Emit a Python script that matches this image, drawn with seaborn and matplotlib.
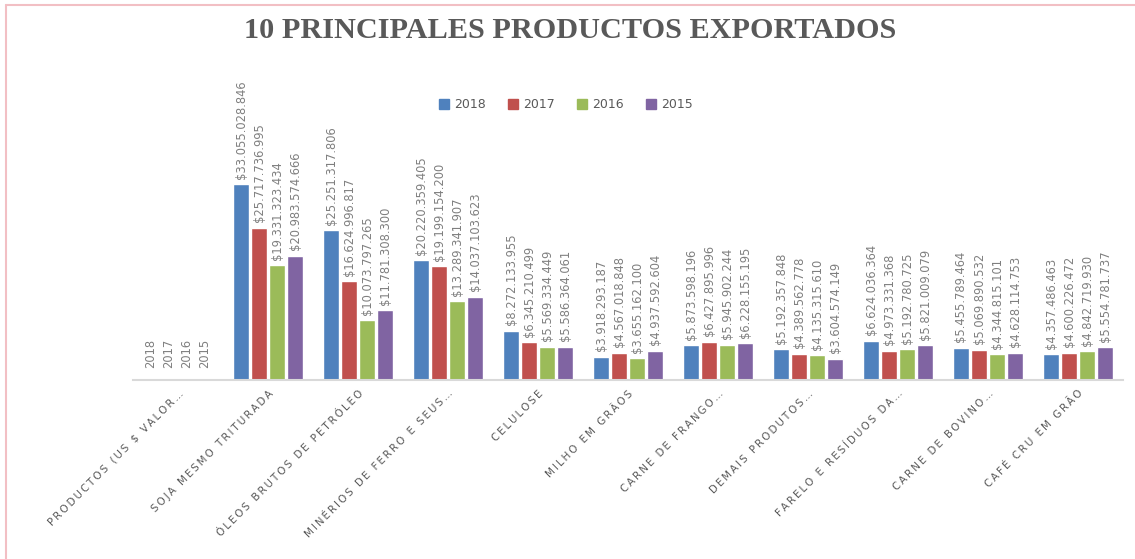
import numpy as np
import pandas as pd
import matplotlib
matplotlib.use("Agg")
import matplotlib.pyplot as plt
import seaborn as sns

# data (US$)
productos = ["PRODUCTOS (US $ VALOR…", "SOJA MESMO TRITURADA", "ÓLEOS BRUTOS DE PETRÓLEO",
             "MINÉRIOS DE FERRO E SEUS…", "CELULOSE", "MILHO EM GRÃOS", "CARNE DE FRANGO…",
             "DEMAIS PRODUTOS…", "FARELO E RESÍDUOS DA…", "CARNE DE BOVINO…", "CAFÉ CRU EM GRÃO"]
anos = ["2018", "2017", "2016", "2015"]
v2018 = [0, 33055028846, 25251317806, 20220359405, 8272133955, 3918293187,
         5873598196, 5192357848, 6624036364, 5455789464, 4357486463]
v2017 = [0, 25717736995, 16624996817, 19199154200, 6345210499, 4567018848,
         6427895996, 4389562778, 4973331368, 5069890532, 4600226472]
v2016 = [0, 19331323434, 10073797265, 13289341907, 5569334449, 3655162100,
         5945902244, 4135315610, 5192780725, 4344815101, 4842719930]
v2015 = [0, 20983574666, 11781308300, 14037103623, 5586364061, 4937592604,
         6228155195, 3604574149, 5821009079, 4628114753, 5554781737]
colores = ["#4F81BD", "#C0504D", "#9BBB59", "#8064A2"]

series = {"2018": v2018, "2017": v2017, "2016": v2016, "2015": v2015}
df = pd.DataFrame([(p, a, series[a][i]) for a in anos for i, p in enumerate(productos)],
                  columns=["producto", "ano", "valor"])

sns.set_style("white")
plt.rcParams['font.family'] = ['DejaVu Sans']

fig = plt.figure(figsize=(11.35, 5.59), dpi=100)
ax = fig.add_axes([133/1135, 1 - 380/559, 990/1135, 310/559])

sns.barplot(data=df, x="producto", y="valor", hue="ano", order=productos, hue_order=anos,
            palette=colores, width=0.8, gap=0.15, ax=ax, legend=False, saturation=1)

def fmt(v):
    return "$" + f"{int(v):,}".replace(",", ".")

for k, cont in enumerate(ax.containers):
    vals = series[anos[k]]
    ax.bar_label(cont, labels=["" if v == 0 else fmt(v) for v in vals], rotation=90,
                 padding=4, fontsize=8.3, color="#7F7F7F")
    # header row of the sheet: years show up as labels on empty bars
    ax.bar_label(cont, labels=[anos[k] if v == 0 else "" for v in vals], rotation=90,
                 padding=9, fontsize=8.3, color="#7F7F7F")

ax.set_ylim(0, 52.3e9)
ax.set_xlim(-0.5, len(productos) - 0.5)
ax.set_xlabel("")
ax.set_ylabel("")
ax.set_yticks([])
for s in ["top", "right", "left"]:
    ax.spines[s].set_visible(False)
ax.spines["bottom"].set_color("#D9D9D9")
ax.spines["bottom"].set_linewidth(1.5)
ax.tick_params(axis="x", length=0, pad=6)
ax.set_xticks(range(len(productos)))
# letter-spaced category labels
espaciados = ["\u2009".join(p) for p in productos]
ax.set_xticklabels(espaciados, rotation=45, ha="right", rotation_mode="anchor",
                   fontsize=7.4, color="#595959")

handles = [plt.Rectangle((0, 0), 1, 1, color=c) for c in colores]
fig.legend(handles, anos, loc="center", bbox_to_anchor=(566/1135, 1 - 105/559), ncol=4,
           frameon=False, fontsize=9, handlelength=0.8, handleheight=0.8,
           handletextpad=0.4, columnspacing=1.8, labelcolor="#595959")

fig.text(570/1135, 1 - 31/559, "10 PRINCIPALES PRODUCTOS EXPORTADOS", ha="center", va="center",
         fontsize=21.8, fontweight="bold", color="#595959", family="Liberation Serif")

# pink chart border (top and left edges visible)
fig.add_artist(plt.Line2D([6/1135, 6/1135], [0, 1 - 5/559], color="#F2BFC4", lw=1.5))
fig.add_artist(plt.Line2D([6/1135, 1], [1 - 5/559, 1 - 5/559], color="#F2BFC4", lw=1.5))

fig.savefig("out.png", dpi=100)
